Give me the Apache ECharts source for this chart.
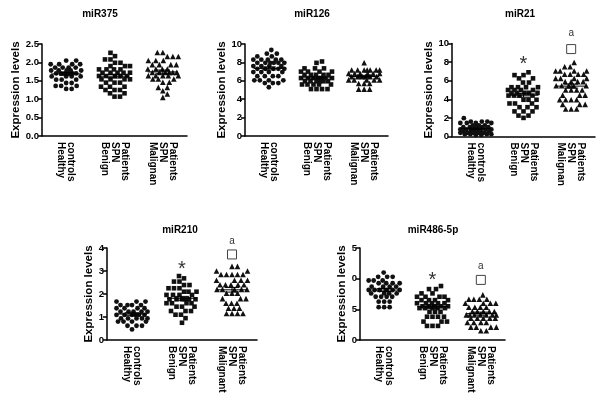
<!DOCTYPE html>
<html>
<head>
<meta charset="utf-8">
<script src="https://cdn.jsdelivr.net/npm/echarts@6/dist/echarts.min.js"></script>
<style>html,body{margin:0;padding:0;background:#fff}#c{width:600px;height:406px}</style>
</head>
<body>
<div id="c"></div>
<script>
// ---- categories / tick labels ----
const xLabelsTop = ['controls\nHealthy', 'Patients\nSPN\nBenign', 'Patients\nSPN\nMalignan'];
const xLabelsBottom = ['controls\nHealthy', 'Patients\nSPN\nBenign', 'Patients\nSPN\nMalignant'];
const ticks375 = ['0.0', '0.5', '1.0', '1.5', '2.0', '2.5'];
const ticks126 = ['0', '2', '4', '6', '8', '10'];
const ticks21 = ['0', '2', '4', '6', '8', '10'];
const ticks210 = ['0', '1', '2', '3', '4'];
const ticks486 = ['0', '5', '0', '5'];

// ---- values (row by row) ----
const healthy375 = [2.05, 2.05, 1.95, 1.95, 1.95, 1.95, 1.86, 1.86, 1.86, 1.86, 1.78, 1.78, 1.78, 1.78, 1.78, 1.70, 1.70, 1.70, 1.70, 1.70, 1.70, 1.62, 1.62, 1.62, 1.62, 1.53, 1.53, 1.53, 1.44, 1.44, 1.36, 1.36, 1.36, 1.28, 1.28];
const benign375 = [2.26, 2.17, 2.08, 2.08, 1.99, 1.99, 1.90, 1.90, 1.90, 1.81, 1.81, 1.81, 1.81, 1.72, 1.72, 1.72, 1.72, 1.72, 1.63, 1.63, 1.63, 1.63, 1.63, 1.54, 1.54, 1.54, 1.54, 1.45, 1.45, 1.45, 1.34, 1.34, 1.34, 1.25, 1.25, 1.25, 1.16, 1.16, 1.07, 1.07];
const malig375 = [2.27, 2.27, 2.16, 2.16, 2.16, 2.05, 2.05, 2.05, 1.94, 1.94, 1.94, 1.94, 1.82, 1.82, 1.82, 1.82, 1.73, 1.73, 1.73, 1.73, 1.73, 1.73, 1.64, 1.64, 1.64, 1.64, 1.64, 1.55, 1.55, 1.55, 1.46, 1.46, 1.32, 1.32, 1.23, 1.14, 1.05];

const healthy126 = [9.35, 8.95, 8.95, 8.65, 8.65, 8.3, 8.3, 8.3, 8.3, 8.3, 7.95, 7.95, 7.95, 7.95, 7.95, 7.95, 7.6, 7.6, 7.6, 7.6, 7.3, 7.3, 7.3, 7.3, 7.3, 6.95, 6.95, 6.95, 6.95, 6.5, 6.5, 6.5, 6.5, 6.05, 6.05, 6.05, 6.05, 5.75, 5.75, 5.75, 5.3];
const benign126 = [8.1, 7.95, 7.35, 7.35, 7.35, 7.0, 7.0, 7.0, 7.0, 6.65, 6.65, 6.65, 6.65, 6.65, 6.3, 6.3, 6.3, 6.3, 6.3, 6.3, 6.3, 5.95, 5.95, 5.95, 5.95, 5.95, 5.95, 5.6, 5.6, 5.6, 5.6, 5.6, 5.1, 5.1, 5.1, 5.1];
const malig126 = [7.97, 7.17, 7.17, 7.17, 7.17, 7.17, 7.17, 7.17, 6.8, 6.8, 6.8, 6.8, 6.8, 6.8, 6.45, 6.45, 6.45, 6.45, 6.45, 6.45, 6.1, 6.1, 6.1, 6.1, 6.1, 5.7, 5.7, 5.7, 5.1, 5.1, 5.1];

const healthy21 = [1.97, 1.6, 1.6, 1.6, 1.45, 1.45, 1.45, 1.45, 1.2, 1.2, 1.2, 1.0, 1.0, 1.0, 1.0, 1.0, 0.75, 0.75, 0.75, 0.75, 0.75, 0.75, 0.55, 0.55, 0.55, 0.55, 0.55, 0.4, 0.4, 0.4, 0.4, 0.4, 0.25, 0.25, 0.25, 0.25, 0.15, 0.15];
const benign21 = [6.9, 6.6, 6.6, 6.25, 6.25, 5.8, 5.8, 5.3, 5.3, 5.3, 5.3, 5.0, 5.0, 5.0, 5.0, 4.7, 4.7, 4.7, 4.7, 4.7, 4.4, 4.4, 4.4, 4.4, 3.95, 3.95, 3.95, 3.55, 3.55, 3.55, 3.15, 3.15, 3.15, 2.7, 2.7, 2.7, 2.25, 2.25, 2.0];
const malig21 = [7.95, 7.5, 7.5, 7.05, 7.05, 7.05, 7.05, 6.7, 6.7, 6.7, 6.7, 6.25, 6.25, 6.25, 6.25, 5.9, 5.9, 5.9, 5.9, 5.45, 5.45, 5.45, 5.45, 5.45, 5.0, 5.0, 5.0, 5.0, 4.45, 4.45, 4.45, 3.95, 3.95, 3.95, 3.95, 3.45, 3.45, 3.45, 2.95, 2.95, 2.95];

const healthy210 = [1.67, 1.67, 1.67, 1.52, 1.52, 1.52, 1.52, 1.38, 1.38, 1.38, 1.38, 1.23, 1.23, 1.23, 1.23, 1.23, 1.09, 1.09, 1.09, 1.09, 1.09, 1.09, 0.94, 0.94, 0.94, 0.94, 0.94, 0.8, 0.8, 0.8, 0.8, 0.62, 0.62, 0.62, 0.46];
const benign210 = [2.78, 2.68, 2.54, 2.54, 2.39, 2.39, 2.25, 2.25, 2.25, 2.1, 2.1, 2.1, 1.96, 1.96, 1.96, 1.96, 1.77, 1.77, 1.77, 1.77, 1.77, 1.77, 1.6, 1.6, 1.6, 1.6, 1.45, 1.45, 1.45, 1.26, 1.26, 1.26, 1.1, 1.1, 0.95, 0.75];
const malig210 = [3.2, 3.2, 3.0, 3.0, 2.85, 2.85, 2.85, 2.85, 2.85, 2.6, 2.6, 2.6, 2.6, 2.4, 2.4, 2.4, 2.4, 2.4, 2.2, 2.2, 2.2, 2.2, 2.2, 2.03, 2.03, 2.03, 1.8, 1.8, 1.8, 1.6, 1.6, 1.6, 1.38, 1.38, 1.38, 1.15, 1.15, 1.15, 1.15];

const healthy486 = [11.0, 10.3, 10.3, 10.3, 9.7, 9.7, 9.7, 9.25, 9.25, 9.25, 9.25, 8.7, 8.7, 8.7, 8.7, 8.15, 8.15, 8.15, 8.15, 8.15, 8.15, 7.6, 7.6, 7.6, 7.6, 7.05, 7.05, 7.05, 7.05, 6.25, 6.25, 6.25, 5.35, 5.35, 5.35];
const benign486 = [8.8, 8.3, 8.3, 7.6, 7.6, 7.05, 7.05, 7.05, 7.05, 6.5, 6.5, 6.5, 6.5, 6.0, 6.0, 6.0, 6.0, 6.0, 5.5, 5.5, 5.5, 5.5, 5.5, 5.2, 5.2, 5.2, 5.2, 5.2, 4.6, 4.6, 4.6, 3.8, 3.8, 3.8, 3.8, 3.0, 3.0, 3.0, 2.3, 2.3, 2.3];
const malig486 = [7.35, 6.65, 6.65, 6.65, 6.65, 6.0, 6.0, 6.0, 6.0, 5.35, 5.35, 5.35, 5.35, 4.65, 4.65, 4.65, 4.65, 4.65, 4.1, 4.1, 4.1, 4.1, 4.1, 4.1, 4.1, 3.55, 3.55, 3.55, 3.55, 3.55, 2.85, 2.85, 2.85, 2.85, 2.1, 2.1, 2.1, 2.1, 1.5, 1.5];

// significance marks: [category index, y value, text]
const marks21 = [[1, 8.2, '*'], [2, 9.4, '□'], [2, 11.15, 'a']];
const marks210 = [[1, 3.25, '*'], [2, 3.72, '□'], [2, 4.3, 'a']];
const marks486 = [[1, 10.4, '*'], [2, 9.8, '□'], [2, 12.0, 'a']];

// ---- layout ----
const FONT = 'Liberation Sans, Arial, sans-serif';
const panels = [
  {title: 'miR375', grid: {left: 42, top: 44, width: 145, height: 92}, min: 0, max: 2.5, interval: 0.5, ticks: ticks375, groups: [healthy375, benign375, malig375], labels: xLabelsTop, nameGap: 17, tpos: [100, 9], marks: []},
  {title: 'miR126', grid: {left: 245, top: 44, width: 143, height: 92}, min: 0, max: 10, interval: 2, ticks: ticks126, groups: [healthy126, benign126, malig126], labels: xLabelsTop, nameGap: 7, tpos: [312, 9], marks: []},
  {title: 'miR21', grid: {left: 452, top: 43.5, width: 143, height: 93}, min: 0, max: 10, interval: 2, ticks: ticks21, groups: [healthy21, benign21, malig21], labels: xLabelsTop, nameGap: 8.5, tpos: [520, 9], marks: marks21},
  {title: 'miR210', grid: {left: 107, top: 248, width: 150, height: 92}, min: 0, max: 4, interval: 1, ticks: ticks210, groups: [healthy210, benign210, malig210], labels: xLabelsBottom, nameGap: 7, tpos: [180, 225], marks: marks210},
  {title: 'miR486-5p', grid: {left: 360, top: 248, width: 145, height: 92}, min: 0, max: 15, interval: 5, ticks: ticks486, groups: [healthy486, benign486, malig486], labels: xLabelsBottom, nameGap: 2, tpos: [433, 225], marks: marks486}
];
const symbols = [{s: 'circle', size: 4.8}, {s: 'rect', size: 4.6}, {s: 'triangle', size: 5.6}];

// Column-scatter (beeswarm) layout: horizontal pixel offsets so marks do not overlap
function swarm(values, pxPerUnit, d, maxHalf) {
  const order = values.map((v, i) => i).sort((a, b) => values[a] - values[b]);
  const placed = [];
  const offs = new Array(values.length).fill(0);
  for (const i of order) {
    const y = values[i] * pxPerUnit;
    let best = 0, bestScore = -1;
    for (let k = 0; ; k++) {
      const c = (k % 2 ? 1 : -1) * Math.ceil(k / 2) * 0.5;
      if (Math.abs(c) > maxHalf) break;
      let minD = Infinity;
      for (const p of placed) {
        const dx = p[0] - c, dy = p[1] - y;
        minD = Math.min(minD, Math.sqrt(dx * dx + dy * dy));
      }
      if (minD >= d) { best = c; bestScore = Infinity; break; }
      if (minD > bestScore) { bestScore = minD; best = c; }
    }
    offs[i] = best;
    placed.push([best, y]);
  }
  return offs;
}
function stats(a) {
  const n = a.length, m = a.reduce((s, v) => s + v, 0) / n;
  const sd = Math.sqrt(a.reduce((s, v) => s + (v - m) * (v - m), 0) / (n - 1));
  return [m, sd / Math.sqrt(n)];
}

const option = {animation: false, backgroundColor: '#fff', title: [], grid: [], xAxis: [], yAxis: [], series: []};
panels.forEach((P, pi) => {
  option.title.push({text: P.title, left: P.tpos[0], top: P.tpos[1], textAlign: 'center', padding: 0,
    textStyle: {fontFamily: FONT, fontSize: 10, fontWeight: 'bold', color: '#000'}});
  option.grid.push(Object.assign({containLabel: false}, P.grid));
  option.xAxis.push({type: 'category', gridIndex: pi, data: P.labels,
    axisLine: {lineStyle: {color: '#000', width: 1.5}},
    axisTick: {alignWithLabel: true, length: 4, lineStyle: {color: '#000', width: 1.5}},
    axisLabel: {rotate: -90, margin: 6, interval: 0, color: '#000', fontFamily: FONT, fontSize: 10, fontWeight: 'bold', lineHeight: 10},
    splitLine: {show: false}});
  option.yAxis.push({type: 'value', gridIndex: pi, min: P.min, max: P.max, interval: P.interval,
    name: 'Expression levels', nameLocation: 'middle', nameGap: P.nameGap,
    nameTextStyle: {fontFamily: FONT, fontSize: 11.5, fontWeight: 'bold', color: '#000'},
    axisLine: {show: true, lineStyle: {color: '#000', width: 1.5}},
    axisTick: {show: true, length: 4, lineStyle: {color: '#000', width: 1.5}},
    axisLabel: {margin: 3, color: '#000', fontFamily: FONT, fontSize: 9.5, fontWeight: 'bold',
      formatter: (v) => P.ticks[Math.round((v - P.min) / P.interval)]},
    splitLine: {show: false}});
  const ppu = P.grid.height / (P.max - P.min);
  const statData = [];
  P.groups.forEach((vals, gi) => {
    const offs = swarm(vals, ppu, 5.5, 15.5);
    option.series.push({type: 'scatter', xAxisIndex: pi, yAxisIndex: pi, clip: false,
      symbol: symbols[gi].s, symbolSize: symbols[gi].size,
      itemStyle: {color: '#111', opacity: 1},
      data: vals.map((v, i) => ({value: [gi, v], symbolOffset: [offs[i], 0]})), z: 2});
    const st = stats(vals);
    statData.push([gi, st[0], st[1]]);
  });
  option.series.push({type: 'custom', xAxisIndex: pi, yAxisIndex: pi, z: 5, data: statData,
    renderItem: (params, api) => {
      const c = api.value(0), m = api.value(1), s = api.value(2);
      const p = api.coord([c, m]), t = api.coord([c, m + s]), b = api.coord([c, m - s]);
      const st = {stroke: '#000', lineWidth: 1};
      return {type: 'group', children: [
        {type: 'line', shape: {x1: p[0] - 15, y1: p[1], x2: p[0] + 15, y2: p[1]}, style: st},
        {type: 'line', shape: {x1: p[0], y1: t[1], x2: p[0], y2: b[1]}, style: st},
        {type: 'line', shape: {x1: p[0] - 7, y1: t[1], x2: p[0] + 7, y2: t[1]}, style: st},
        {type: 'line', shape: {x1: p[0] - 7, y1: b[1], x2: p[0] + 7, y2: b[1]}, style: st}
      ]};
    }});
  if (P.marks.length) {
    option.series.push({type: 'custom', xAxisIndex: pi, yAxisIndex: pi, z: 6, clip: false, data: P.marks,
      renderItem: (params, api) => {
        const mk = P.marks[params.dataIndex];
        const p = api.coord([mk[0], mk[1]]);
        if (mk[2] === '□') {
          return {type: 'rect', shape: {x: p[0] - 4.5, y: p[1] - 4.5, width: 9, height: 9},
            style: {fill: '#fff', stroke: '#444', lineWidth: 1}};
        }
        const big = mk[2] === '*';
        const fs = big ? 20 : 10;
        return {type: 'text', x: p[0], y: p[1] + (big ? fs * 0.22 : 0), style: {text: mk[2], align: 'center', verticalAlign: 'middle',
          font: 'normal ' + fs + 'px ' + FONT, fill: '#333'}};
      }});
  }
});
const chart = echarts.init(document.getElementById('c'), null, {renderer: 'canvas'});
chart.setOption(option);
</script>
</body>
</html>
